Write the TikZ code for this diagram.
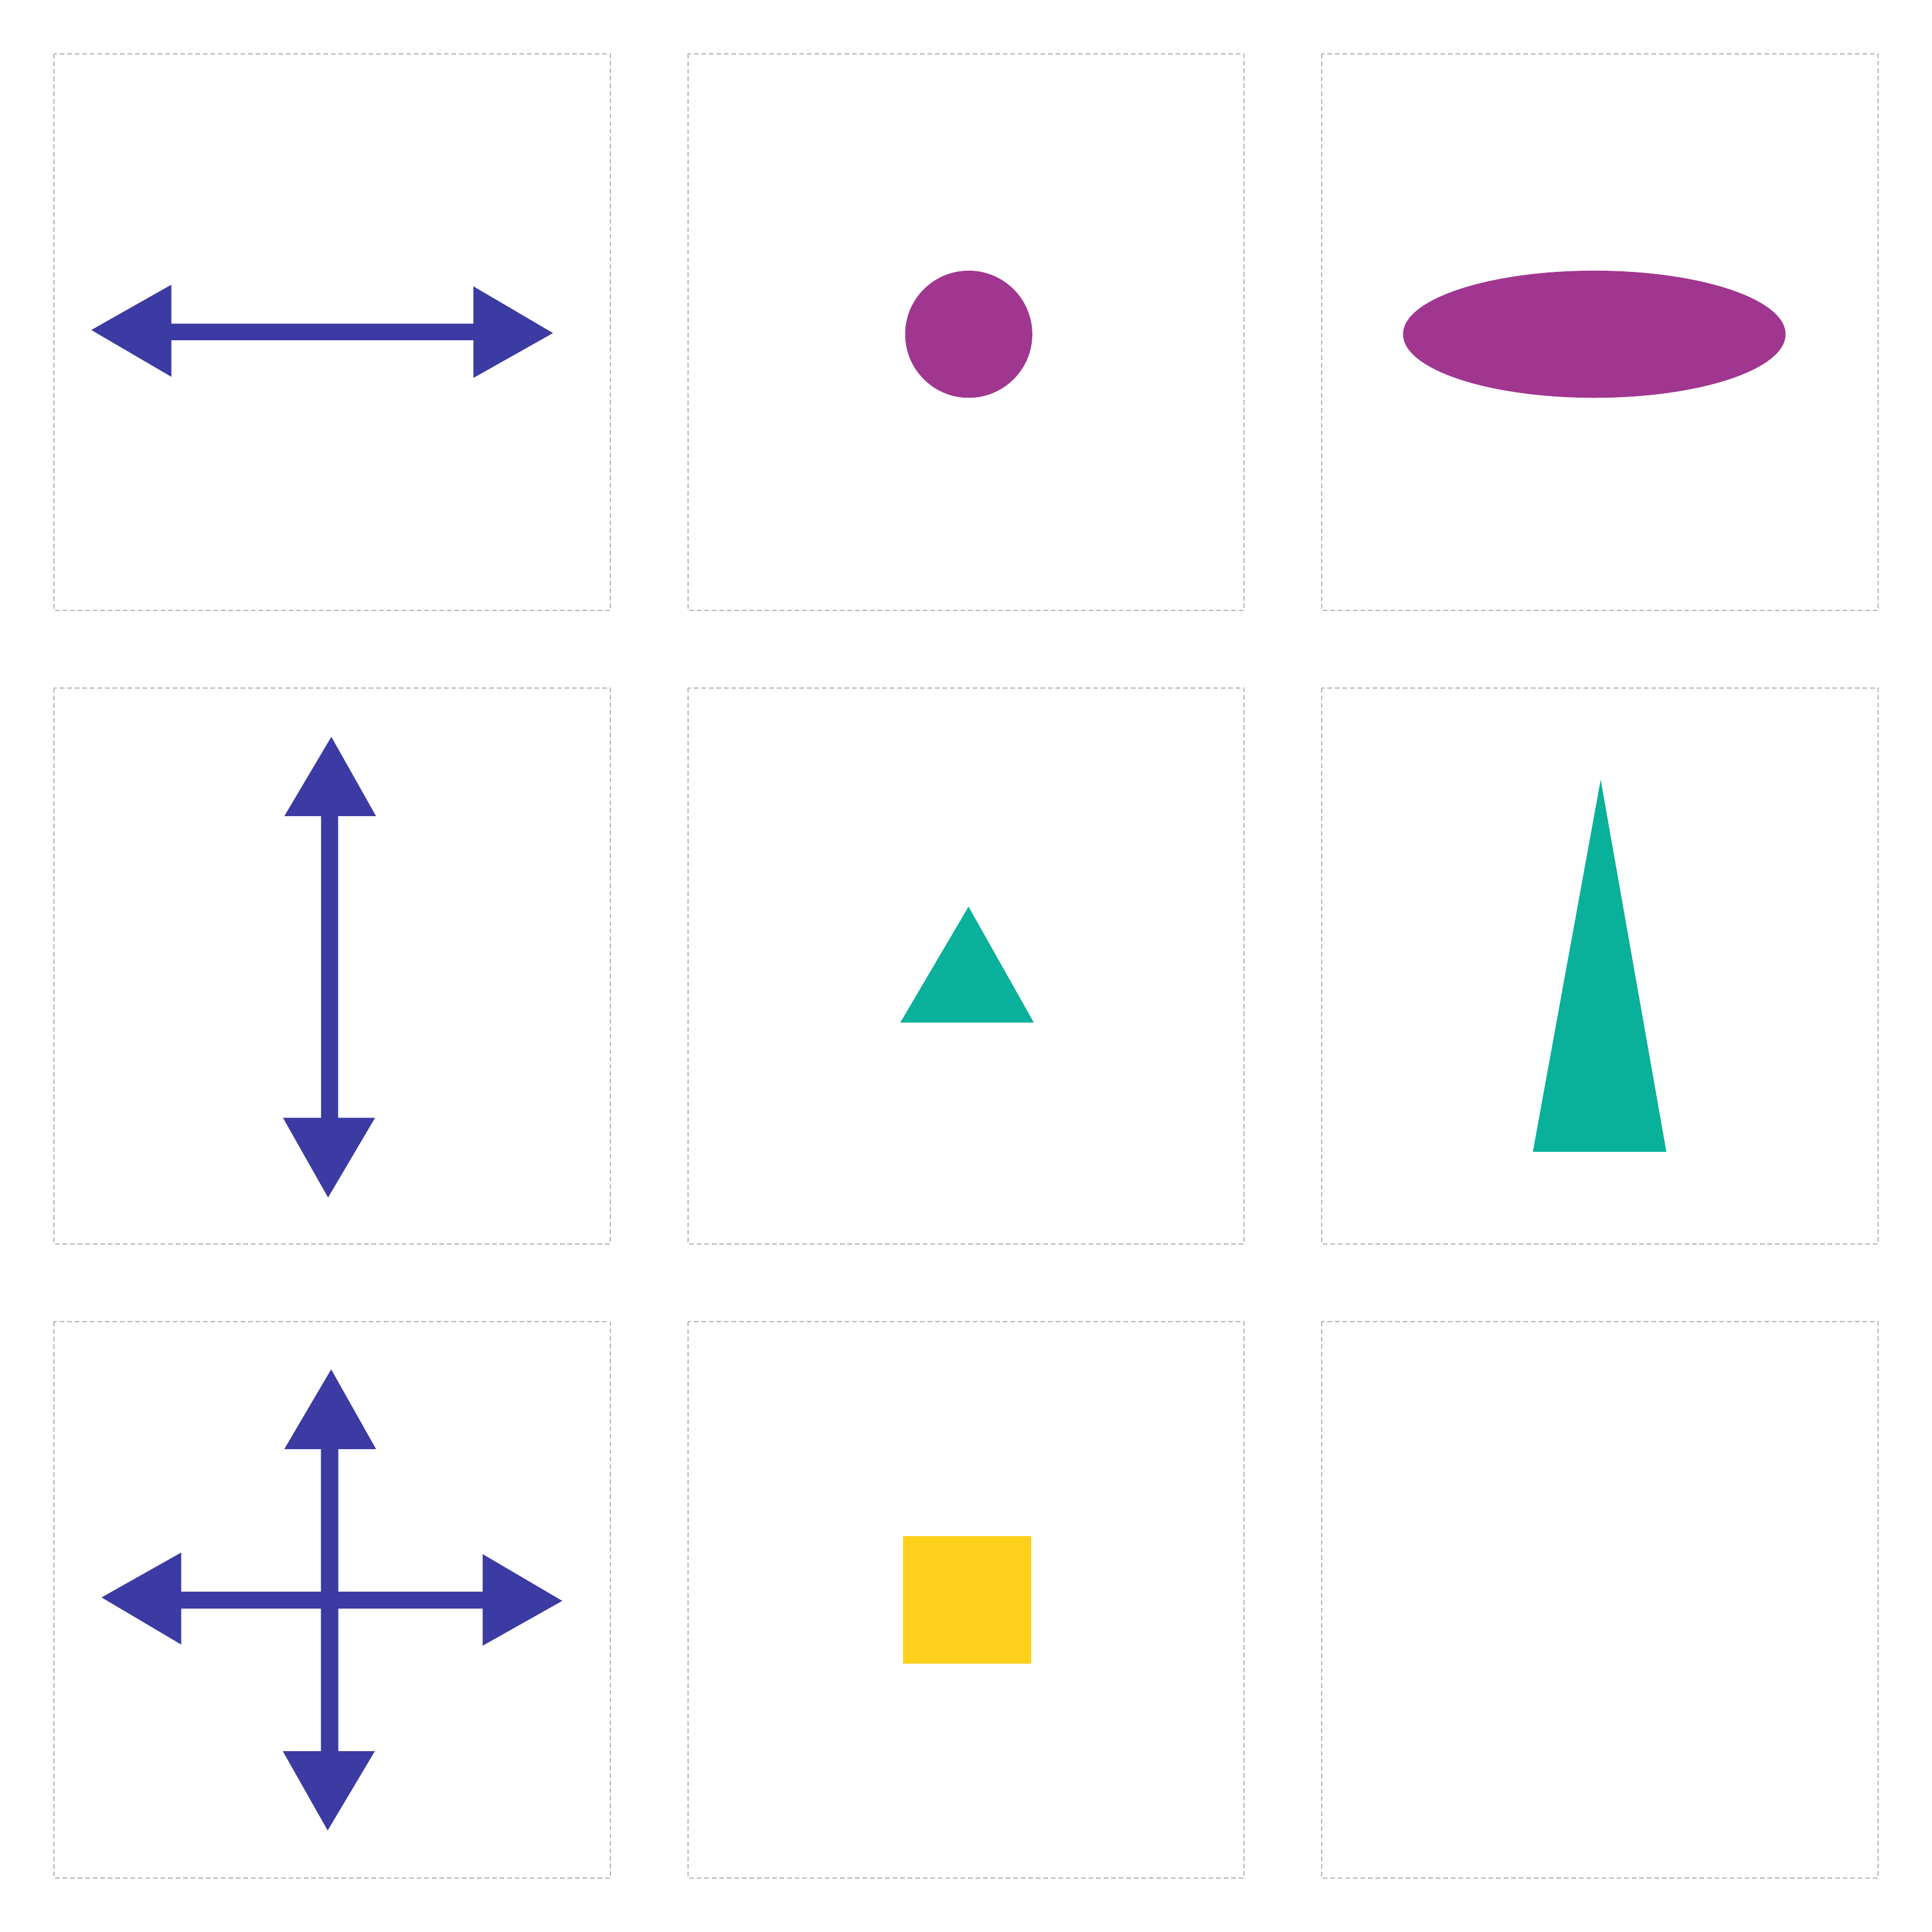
\documentclass[tikz,border=0pt]{standalone}
\definecolor{arrowblue}{HTML}{3C3AA3}
\definecolor{plum}{HTML}{A0368F}
\definecolor{tealgreen}{HTML}{09B09A}
\definecolor{sun}{HTML}{FDD01C}
\definecolor{framegray}{HTML}{B4B4B4}
\begin{document}
\begin{tikzpicture}[x=1pt,y=-1pt,
  cell/.style={draw=framegray, line width=0.3pt, dash pattern=on 1.2pt off 0.75pt},
  arrowfill/.style={fill=arrowblue, draw=none},
  roundfill/.style={fill=plum, draw=none},
  trifill/.style={fill=tealgreen, draw=none},
  squarefill/.style={fill=sun, draw=none}]
\fill[white] (0,0) rectangle (500,500);
\useasboundingbox (0,0) rectangle (500,500);
% frames
\foreach \cx in {14,178,342}{
  \foreach \cy in {14,178,342}{
    \draw[cell] (\cx,\cy) rectangle ++(144,144);
  }
}
% box 1: horizontal double arrow
\fill[arrowfill] (23.64,85.4) -- (44.33,73.7) -- (44.33,83.75) -- (122.5,83.75) -- (122.5,74.1) -- (143.1,86.2) -- (122.5,97.8) -- (122.5,88.04) -- (44.33,88.04) -- (44.33,97.5) -- cycle;
% box 2: circle
\fill[roundfill] (250.7,86.5) circle (16.45);
% box 3: ellipse
\fill[roundfill] (412.6,86.5) ellipse [x radius=49.5, y radius=16.45];
% box 4: vertical double arrow
\fill[arrowfill] (85.75,190.7) -- (97.3,211.2) -- (87.5,211.2) -- (87.5,289.3) -- (97.05,289.3) -- (84.9,309.9) -- (73.25,289.3) -- (83.1,289.3) -- (83.1,211.2) -- (73.6,211.2) -- cycle;
% box 5: small triangle
\fill[trifill] (250.65,234.65) -- (267.55,264.65) -- (233.0,264.65) -- cycle;
% box 6: tall triangle
\fill[trifill] (414.25,201.8) -- (431.25,298.1) -- (396.7,298.1) -- cycle;
% box 7: four-way arrow
\fill[arrowfill] (85.7,354.4) -- (97.3,375.0) -- (87.55,375.0) -- (87.55,453.2) -- (97.0,453.2) -- (84.8,473.7) -- (73.2,453.2) -- (83.06,453.2) -- (83.06,375.0) -- (73.6,375.0) -- cycle;
\fill[arrowfill] (26.3,413.4) -- (46.9,401.8) -- (46.9,411.9) -- (124.9,411.9) -- (124.9,402.2) -- (145.5,414.3) -- (124.9,425.9) -- (124.9,416.3) -- (46.9,416.3) -- (46.9,425.6) -- cycle;
% box 8: square
\fill[squarefill] (233.7,397.5) rectangle (266.9,430.6);
\end{tikzpicture}
\end{document}
